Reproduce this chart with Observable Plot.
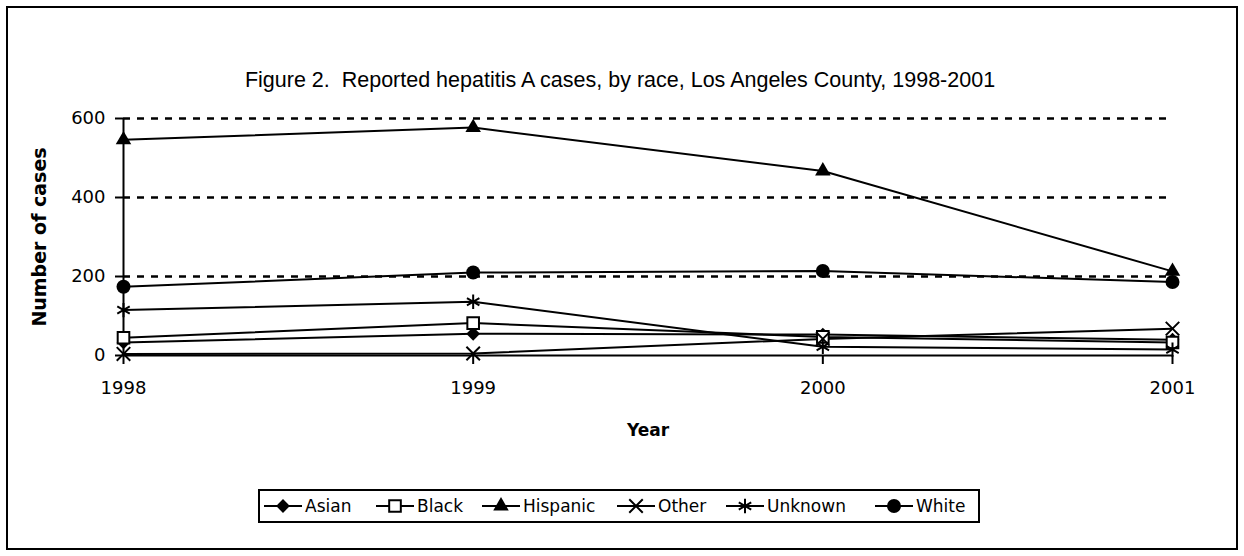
<!DOCTYPE html>
<html>
<head>
<meta charset="utf-8">
<script src="https://cdn.jsdelivr.net/npm/d3@7"></script>
<script src="https://cdn.jsdelivr.net/npm/@observablehq/plot@0.6"></script>
<style>
  html, body { margin: 0; padding: 0; background: #fff; }
  #chart svg { display: block; }
</style>
</head>
<body>
<div id="chart"></div>
<script>
const titleText = "Figure 2.  Reported hepatitis A cases, by race, Los Angeles County, 1998-2001";
const years = [1998, 1999, 2000, 2001];
const yTicks = [0, 200, 400, 600];
const races = ["Asian", "Black", "Hispanic", "Other", "Unknown", "White"];
const asian    = [33, 55, 53, 40];
const black    = [45, 82, 47, 33];
const hispanic = [546, 577, 467, 213];
const other    = [4, 5, 42, 68];
const unknown  = [115, 136, 22, 15];
const white    = [174, 210, 214, 186];

const seriesValues = [asian, black, hispanic, other, unknown, white];
const symbols = ["diamond2", "square2", "triangle2", "times", "asterisk", "circle"];
const fills   = ["black", "white", "black", "none", "none", "black"];
const radii   = [6.2, 7.4, 7.4, 6.2, 6.8, 7.0];

const data = [];
races.forEach((r, i) => years.forEach((yr, j) => data.push({race: r, year: yr, value: seriesValues[i][j]})));

const marks = [
  Plot.ruleY([200, 400, 600], {stroke: "black", strokeWidth: 2.5, strokeDasharray: "7,7"}),
  Plot.ruleY([0], {stroke: "black", strokeWidth: 2}),
  Plot.ruleX([1998], {stroke: "black", strokeWidth: 2}),
  Plot.axisX({ticks: years, tickFormat: d => String(d), tickSize: 9, tickPadding: 17, fontSize: 18, label: null, strokeWidth: 2}),
  Plot.axisY({ticks: yTicks, tickSize: 8, tickPadding: 10, fontSize: 18, label: null, strokeWidth: 2}),
];
races.forEach((r, i) => {
  const d = data.filter(v => v.race === r);
  marks.push(Plot.line(d, {x: "year", y: "value", stroke: "black", strokeWidth: 2}));
});
races.forEach((r, i) => {
  const d = data.filter(v => v.race === r);
  const strokeSym = fills[i] === "none" || fills[i] === "white";
  marks.push(Plot.dot(d, {
    x: "year", y: "value", symbol: symbols[i], r: radii[i],
    fill: fills[i], stroke: strokeSym ? "black" : "none", strokeWidth: 2
  }));
});
marks.push(Plot.text([titleText], {frameAnchor: "top", lineAnchor: "middle", dx: -28, dy: -38, fontSize: 21.5, fontFamily: "Liberation Sans", fill: "black"}));
marks.push(Plot.text(["Year"], {frameAnchor: "bottom", lineAnchor: "middle", dx: 0, dy: 75, fontSize: 17, fontWeight: "bold", fill: "black"}));
marks.push(Plot.text(["Number of cases"], {frameAnchor: "left", textAnchor: "middle", lineAnchor: "middle", dx: -84, rotate: -90, fontSize: 19, fontWeight: "bold", fill: "black"}));

const chart = Plot.plot({
  width: 1244, height: 556,
  marginLeft: 123, marginRight: 72, marginTop: 118, marginBottom: 201,
  x: {type: "linear", domain: [1998, 2001]},
  y: {domain: [0, 600]},
  style: {fontFamily: "DejaVu Sans", fontSize: "16px", color: "black", background: "white", overflow: "visible"},
  marks
});
document.getElementById("chart").appendChild(chart);

const svg = d3.select(chart);
svg.selectAll("text").style("white-space", "pre");
svg.append("rect").attr("x", 7).attr("y", 7).attr("width", 1230).attr("height", 542)
  .attr("fill", "none").attr("stroke", "black").attr("stroke-width", 2);

// legend
const lg = svg.append("g").attr("font-family", "DejaVu Sans").attr("font-size", 17).attr("text-anchor", "start");
lg.append("rect").attr("x", 259).attr("y", 490).attr("width", 720).attr("height", 32)
  .attr("fill", "white").attr("stroke", "black").attr("stroke-width", 2);
const markerX = [283, 395, 501, 636, 745, 894];
const cy = 506;
const d3sym = {diamond2: d3.symbolDiamond2, square2: d3.symbolSquare2, triangle2: d3.symbolTriangle2,
  times: d3.symbolTimes, asterisk: d3.symbolAsterisk, circle: d3.symbolCircle};
races.forEach((r, i) => {
  const mx = markerX[i];
  lg.append("line").attr("x1", mx - 19).attr("x2", mx + 19).attr("y1", cy).attr("y2", cy)
    .attr("stroke", "black").attr("stroke-width", 2);
  const strokeSym = fills[i] === "none" || fills[i] === "white";
  lg.append("path").attr("transform", `translate(${mx},${cy})`)
    .attr("d", d3.symbol(d3sym[symbols[i]], Math.PI * radii[i] * radii[i])())
    .attr("fill", fills[i]).attr("stroke", strokeSym ? "black" : "none").attr("stroke-width", 2);
  lg.append("text").attr("x", mx + 22).attr("y", cy).attr("dy", "0.35em").text(r);
});
</script>
</body>
</html>
